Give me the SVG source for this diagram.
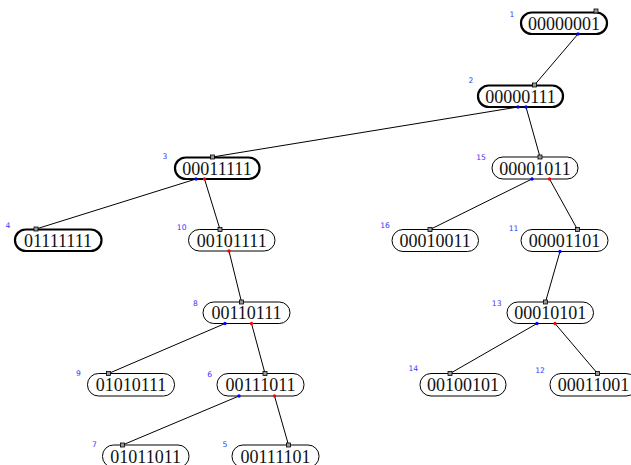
<svg xmlns="http://www.w3.org/2000/svg" width="631" height="465" viewBox="0 0 631 465">
<style>
.box{fill:#fff;stroke:#000;stroke-width:1}
.thick{stroke-width:2.2}
.t{font-family:"Liberation Serif","DejaVu Serif",serif;font-size:18px;text-anchor:middle;fill:#111}
.lbl{font-family:"DejaVu Sans",sans-serif;font-size:7.6px;text-anchor:middle;fill:#3838ff}
.e{stroke:#000;stroke-width:1;fill:none}
.sq{fill:#999;stroke:#000;stroke-width:0.8}
.b{fill:#0000ff}
.r{fill:#ff0000}
</style>
<rect width="631" height="465" fill="#fff"/>
<g id="connectors">
<line class="e" x1="578" y1="34" x2="534.5" y2="85"/>
<line class="e" x1="518" y1="107" x2="212.5" y2="157"/>
<line class="e" x1="526" y1="107" x2="540" y2="157"/>
<line class="e" x1="196" y1="179" x2="36" y2="229"/>
<line class="e" x1="204.5" y1="179" x2="220" y2="229.5"/>
<line class="e" x1="532" y1="179" x2="430" y2="229.5"/>
<line class="e" x1="549.5" y1="179" x2="577.5" y2="229.5"/>
<line class="e" x1="229" y1="251" x2="241.5" y2="302"/>
<line class="e" x1="560" y1="251.5" x2="545.5" y2="302"/>
<line class="e" x1="225" y1="323.5" x2="108.5" y2="373.5"/>
<line class="e" x1="251.5" y1="323.5" x2="265" y2="373.5"/>
<line class="e" x1="537" y1="323.5" x2="450" y2="373.5"/>
<line class="e" x1="555" y1="323.5" x2="597.5" y2="373.5"/>
<line class="e" x1="239" y1="396" x2="122.5" y2="445"/>
<line class="e" x1="274.5" y1="396" x2="288.5" y2="445"/>
</g>
<g id="n1">
<rect class="box thick" x="521" y="12.5" width="86" height="21.5" rx="10.75"/>
<text class="t" x="564" y="29.5">00000001</text>
<text class="lbl" x="512" y="16.5">1</text>
<rect class="sq" x="594" y="9" width="4" height="4"/>
<circle class="b" cx="578" cy="34" r="1.7"/>
</g>
<g id="n2">
<rect class="box thick" x="478" y="85.5" width="85" height="21.5" rx="10.75"/>
<text class="t" x="520.5" y="102.5">00000111</text>
<text class="lbl" x="471" y="83">2</text>
<rect class="sq" x="532.5" y="83" width="4" height="4"/>
<circle class="b" cx="518" cy="107" r="1.7"/>
<circle class="b" cx="526" cy="107" r="1.7"/>
</g>
<g id="n3">
<rect class="box thick" x="175" y="157.5" width="84.5" height="21.5" rx="10.75"/>
<text class="t" x="217" y="174.5">00011111</text>
<text class="lbl" x="165" y="158.5">3</text>
<rect class="sq" x="210.5" y="155" width="4" height="4"/>
<circle class="b" cx="196" cy="179" r="1.7"/>
<circle class="r" cx="204.5" cy="179" r="1.7"/>
</g>
<g id="n4">
<rect class="box thick" x="15" y="229.5" width="86.5" height="21.5" rx="10.75"/>
<text class="t" x="58" y="246.5">01111111</text>
<text class="lbl" x="8" y="227.5">4</text>
<rect class="sq" x="34" y="227" width="4" height="4"/>
</g>
<g id="n15">
<rect class="box" x="492" y="157" width="86" height="22" rx="11"/>
<text class="t" x="535" y="174.5">00001011</text>
<text class="lbl" x="481" y="159.5">15</text>
<rect class="sq" x="538" y="155" width="4" height="4"/>
<circle class="b" cx="532" cy="179" r="1.7"/>
<circle class="r" cx="549.5" cy="179" r="1.7"/>
</g>
<g id="n16">
<rect class="box" x="392" y="229.5" width="86.5" height="22" rx="11"/>
<text class="t" x="435.2" y="247">00010011</text>
<text class="lbl" x="385" y="228">16</text>
<rect class="sq" x="428" y="227.5" width="4" height="4"/>
</g>
<g id="n11">
<rect class="box" x="521" y="229.5" width="87" height="22" rx="11"/>
<text class="t" x="564.5" y="247">00001101</text>
<text class="lbl" x="513.5" y="230.8">11</text>
<rect class="sq" x="575.5" y="227.5" width="4" height="4"/>
<circle class="b" cx="560" cy="251.5" r="1.7"/>
</g>
<g id="n10">
<rect class="box" x="188.5" y="229.5" width="86.5" height="21.5" rx="10.75"/>
<text class="t" x="231.7" y="246.5">00101111</text>
<text class="lbl" x="181.7" y="229.8">10</text>
<rect class="sq" x="218" y="227.5" width="4" height="4"/>
<circle class="r" cx="229" cy="251" r="1.7"/>
</g>
<g id="n8">
<rect class="box" x="203" y="302" width="87" height="21.5" rx="10.75"/>
<text class="t" x="246.5" y="319">00110111</text>
<text class="lbl" x="195.3" y="305.8">8</text>
<rect class="sq" x="239.5" y="300" width="4" height="4"/>
<circle class="b" cx="225" cy="323.5" r="1.7"/>
<circle class="r" cx="251.5" cy="323.5" r="1.7"/>
</g>
<g id="n13">
<rect class="box" x="507" y="302" width="86.5" height="21.5" rx="10.75"/>
<text class="t" x="550.2" y="319">00010101</text>
<text class="lbl" x="496.7" y="306.3">13</text>
<rect class="sq" x="543.5" y="300" width="4" height="4"/>
<circle class="b" cx="537" cy="323.5" r="1.7"/>
<circle class="r" cx="555" cy="323.5" r="1.7"/>
</g>
<g id="n9">
<rect class="box" x="87.5" y="373.5" width="87" height="22.5" rx="11"/>
<text class="t" x="131" y="391">01010111</text>
<text class="lbl" x="78.3" y="375.5">9</text>
<rect class="sq" x="106.5" y="371.5" width="4" height="4"/>
</g>
<g id="n6">
<rect class="box" x="217" y="373.5" width="87" height="22.5" rx="11"/>
<text class="t" x="260.5" y="391">00111011</text>
<text class="lbl" x="209.7" y="376.8">6</text>
<rect class="sq" x="263" y="371.5" width="4" height="4"/>
<circle class="b" cx="239" cy="396" r="1.7"/>
<circle class="r" cx="274.5" cy="396" r="1.7"/>
</g>
<g id="n14">
<rect class="box" x="420" y="373.5" width="86" height="22.5" rx="11"/>
<text class="t" x="463" y="391">00100101</text>
<text class="lbl" x="413.3" y="370.8">14</text>
<rect class="sq" x="448" y="371.5" width="4" height="4"/>
</g>
<g id="n12">
<rect class="box" x="550" y="373.5" width="87" height="22.5" rx="11"/>
<text class="t" x="593.5" y="391">00011001</text>
<text class="lbl" x="540" y="372.5">12</text>
<rect class="sq" x="595.5" y="371.5" width="4" height="4"/>
</g>
<g id="n7">
<rect class="box" x="102.5" y="445" width="86.5" height="22.5" rx="11"/>
<text class="t" x="145.7" y="462.5">01011011</text>
<text class="lbl" x="94.3" y="446.8">7</text>
<rect class="sq" x="120.5" y="443" width="4" height="4"/>
</g>
<g id="n5">
<rect class="box" x="232" y="445" width="87" height="22.5" rx="11"/>
<text class="t" x="275.5" y="462.5">00111101</text>
<text class="lbl" x="225" y="446.8">5</text>
<rect class="sq" x="286.5" y="443" width="4" height="4"/>
</g>
</svg>
